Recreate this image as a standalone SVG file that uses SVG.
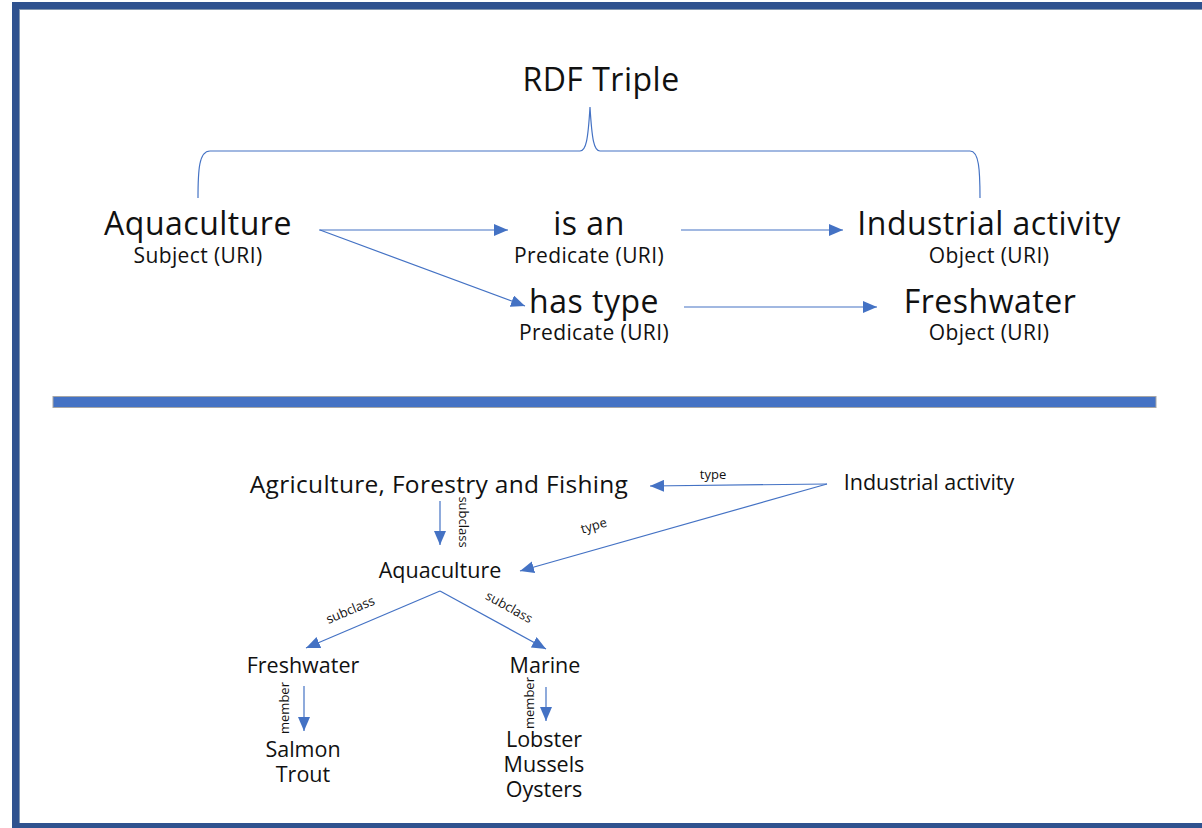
<svg xmlns="http://www.w3.org/2000/svg" width="1202" height="828" viewBox="0 0 1202 828">
<style>
text{font-family:"Open Sans","Noto Sans","DejaVu Sans",sans-serif;fill:#111;text-anchor:middle}
.big{font-size:32px;letter-spacing:0.5px}
.sub{font-size:21px;letter-spacing:0.4px}
.low{font-size:21.5px}
.agri{font-size:24.5px;letter-spacing:0.3px}
.lbl{font-size:13px}
.ln{stroke:#4472C4;stroke-width:1.2;fill:none}
.brace{stroke:#4472C4;stroke-width:1.2;fill:none}
</style>
<defs>
<marker id="ah2" markerWidth="14" markerHeight="12" refX="14" refY="6" orient="auto" markerUnits="userSpaceOnUse">
<path d="M0,0 L14,6 L0,12 Z" fill="#4472C4"/>
</marker>
</defs>
<rect width="1202" height="828" fill="#fff"/>
<g id="frame">
<rect x="12" y="2" width="1190" height="7" fill="#2F528F"/>
<rect x="12" y="2" width="7" height="826" fill="#2F528F"/>
<rect x="12" y="823" width="1190" height="5" fill="#2F528F"/>
<line x1="19" y1="9.5" x2="1202" y2="9.5" stroke="#8497B0" stroke-width="1"/>
<line x1="19.5" y1="9" x2="19.5" y2="823" stroke="#8497B0" stroke-width="1"/>
</g>
<g id="divider">
<rect x="53" y="396.5" width="1103" height="11" fill="#4472C4" stroke="#A6A6A6" stroke-width="1"/>
</g>
<g id="title"><text class="big" x="601" y="91">RDF Triple</text></g>
<g id="brace">
<path class="brace" d="M198,198 C198,170 199,151 210,151 L580,151 C586,151 588,140 590,107 C592,140 594,151 600,151 L970,151 C979,151 980,170 980,198"/>
</g>
<g id="connectors">
<line class="ln" x1="319" y1="230" x2="508" y2="230" marker-end="url(#ah2)"/>
<line class="ln" x1="681" y1="230" x2="843" y2="230" marker-end="url(#ah2)"/>
<line class="ln" x1="320" y1="230" x2="525" y2="306" marker-end="url(#ah2)"/>
<line class="ln" x1="684" y1="307" x2="877" y2="307" marker-end="url(#ah2)"/>
<line class="ln" x1="827" y1="484" x2="650" y2="486" marker-end="url(#ah2)"/>
<line class="ln" x1="827" y1="484" x2="520" y2="571" marker-end="url(#ah2)"/>
<line class="ln" x1="440" y1="501" x2="440" y2="545" marker-end="url(#ah2)"/>
<line class="ln" x1="440" y1="591" x2="306" y2="648" marker-end="url(#ah2)"/>
<line class="ln" x1="440" y1="591" x2="546" y2="649" marker-end="url(#ah2)"/>
<line class="ln" x1="304" y1="686" x2="304" y2="731" marker-end="url(#ah2)"/>
<line class="ln" x1="546" y1="687" x2="546" y2="721" marker-end="url(#ah2)"/>
<text class="lbl" x="713" y="479">type</text>
<text class="lbl" x="0" y="0" transform="translate(595,530) rotate(-16)">type</text>
<text class="lbl" x="0" y="0" transform="translate(459,522) rotate(90)">subclass</text>
<text class="lbl" x="0" y="0" transform="translate(352,614) rotate(-23)">subclass</text>
<text class="lbl" x="0" y="0" transform="translate(507,611) rotate(29)">subclass</text>
<text class="lbl" x="0" y="0" transform="translate(289,708) rotate(-90)">member</text>
<text class="lbl" x="0" y="0" transform="translate(534,703) rotate(-90)">member</text>
</g>
<g id="n-subject"><text class="big" x="198" y="235">Aquaculture</text><text class="sub" x="198" y="263">Subject (URI)</text></g>
<g id="n-isan"><text class="big" x="589" y="235">is an</text><text class="sub" x="589" y="263">Predicate (URI)</text></g>
<g id="n-industrial"><text class="big" x="989" y="235">Industrial activity</text><text class="sub" x="989" y="263">Object (URI)</text></g>
<g id="n-hastype"><text class="big" x="594" y="313">has type</text><text class="sub" x="594" y="340">Predicate (URI)</text></g>
<g id="n-freshwater-obj"><text class="big" x="990" y="313">Freshwater</text><text class="sub" x="989" y="340">Object (URI)</text></g>
<g id="n-agri"><text class="agri" x="439" y="493">Agriculture, Forestry and Fishing</text></g>
<g id="n-ind2"><text class="low" x="929" y="490">Industrial activity</text></g>
<g id="n-aqua2"><text class="low" x="440" y="578">Aquaculture</text></g>
<g id="n-fresh2"><text class="low" x="303" y="673">Freshwater</text></g>
<g id="n-marine"><text class="low" x="545" y="673">Marine</text></g>
<g id="n-salmon"><text class="low" x="303" y="757">Salmon</text><text class="low" x="303" y="782">Trout</text></g>
<g id="n-lobster"><text class="low" x="544" y="747">Lobster</text><text class="low" x="544" y="772">Mussels</text><text class="low" x="544" y="797">Oysters</text></g>
</svg>
